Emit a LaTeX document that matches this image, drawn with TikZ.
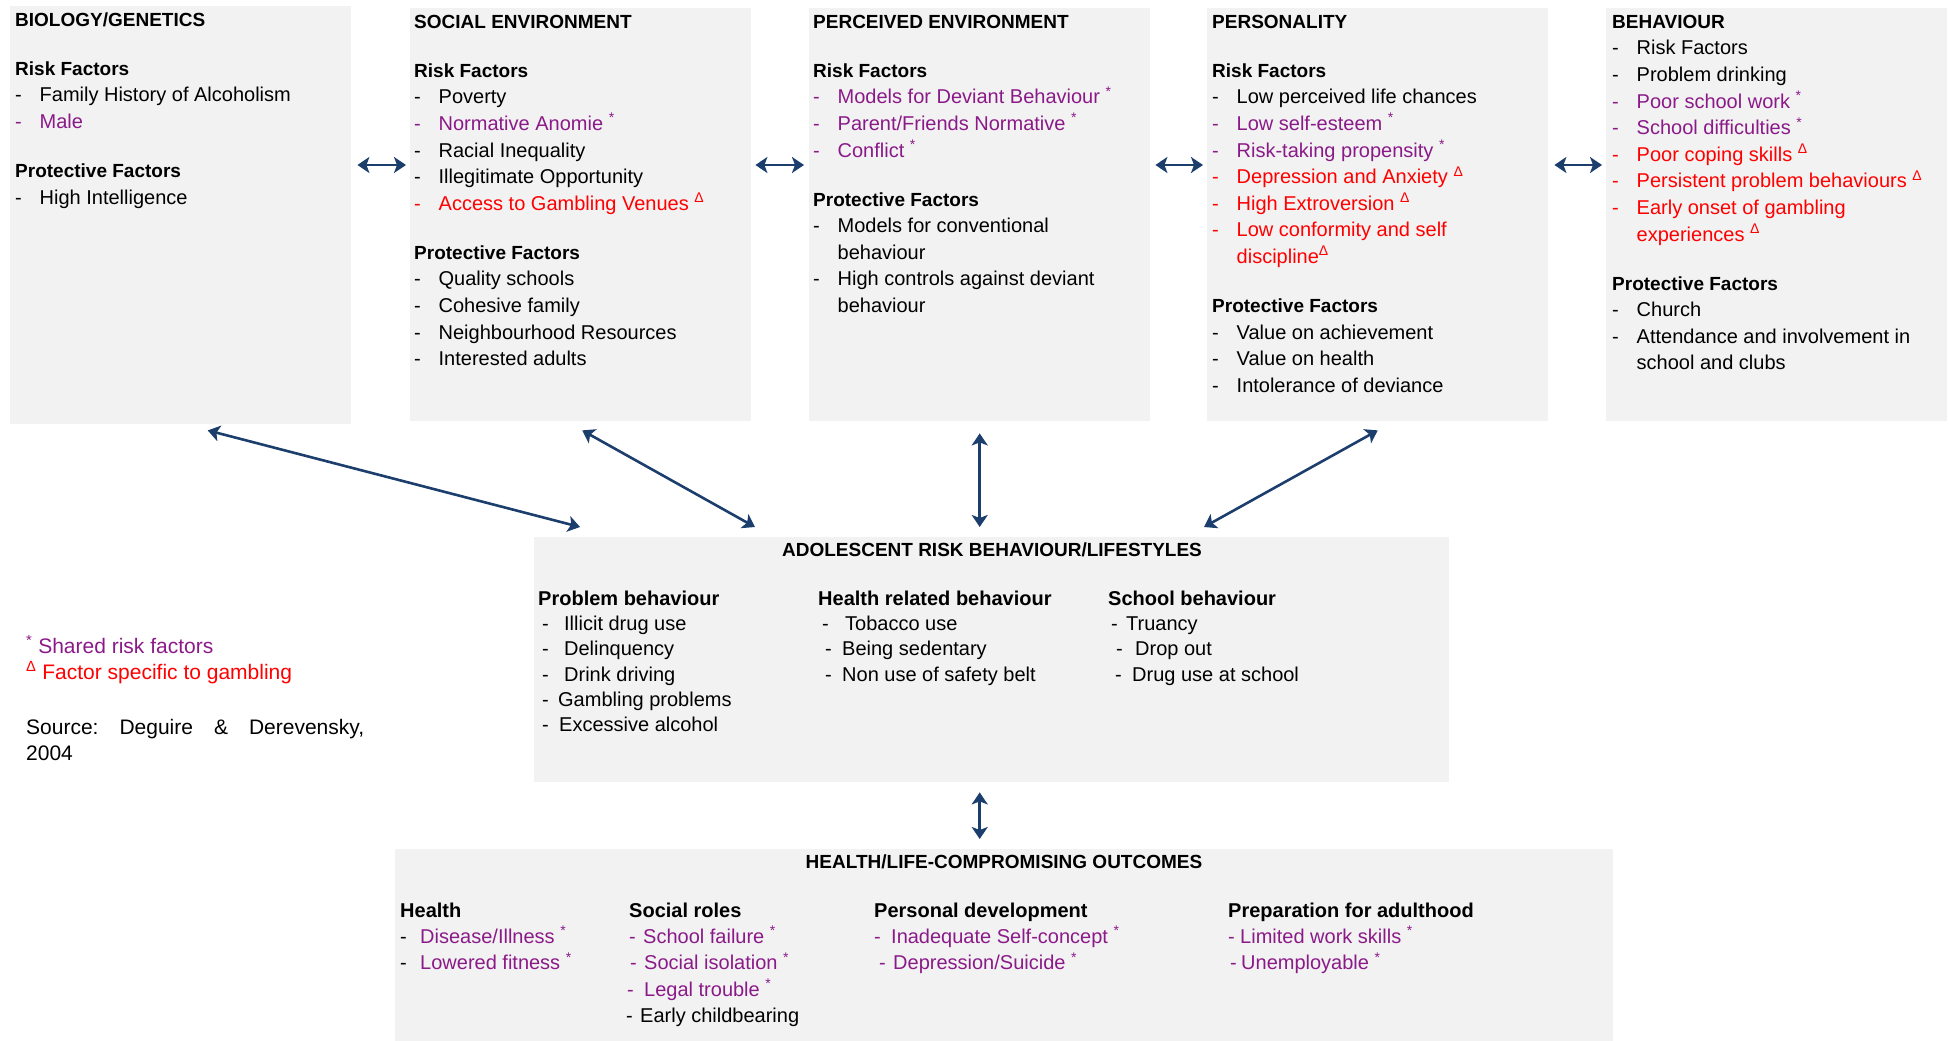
\documentclass[tikz,border=0pt]{standalone}
\usepackage{fontspec}
\setmainfont{Liberation Sans}
\usetikzlibrary{arrows.meta}
\usetikzlibrary{positioning}

\definecolor{panelgray}{HTML}{F2F2F2}
\definecolor{linkblue}{HTML}{1B3E6C}
\definecolor{sharedcol}{HTML}{8B1A89}
\definecolor{gamblecol}{HTML}{FF0000}

% list helpers
\newcommand{\itm}[1]{\makebox[24.5pt][l]{-}#1}
\newcommand{\cnt}[1]{\hspace*{24.5pt}#1}
\newcommand{\li}[3]{\hspace*{#1pt}\makebox[#2pt][l]{-}#3}
\newcommand{\hdr}[1]{{\fontsize{19}{26.6}\selectfont\bfseries #1}}
\newcommand{\shr}{\textsuperscript{*}}
\newcommand{\gam}{\textsuperscript{Δ}}
\newcommand{\shared}[1]{\textcolor{sharedcol}{#1}}
\newcommand{\gamble}[1]{\textcolor{gamblecol}{#1}}
\frenchspacing

\tikzset{
  panel/.style={fill=panelgray, draw=none, anchor=north west, inner sep=0pt},
  txt/.style={anchor=north west, inner sep=0pt, align=left,
    font=\fontsize{20}{26.6}\selectfont},
  coltxt/.style={anchor=north west, inner sep=0pt, align=left,
    font=\fontsize{20}{25.3}\selectfont},
  outtxt/.style={anchor=north west, inner sep=0pt, align=left,
    font=\fontsize{20}{26.3}\selectfont},
  headline/.style={anchor=base, inner sep=0pt, font=\fontsize{19}{24}\selectfont\bfseries},
  link/.style={draw=linkblue, line width=2.6pt,
    {Stealth[length=12pt,width=16pt,inset=3pt]}-{Stealth[length=12pt,width=16pt,inset=3pt]}}
}

\begin{document}
\begin{tikzpicture}[x=1pt, y=-1pt]
  \useasboundingbox (0,0) rectangle (1949,1041);

  % factor panels
  \node[panel, minimum width=341pt, minimum height=418pt] (bio) at (10,6) {};
  \node[panel, minimum width=341pt, minimum height=413pt] (social) at (410,8) {};
  \node[panel, minimum width=341pt, minimum height=413pt] (perceived) at (809,8) {};
  \node[panel, minimum width=341pt, minimum height=413pt] (person) at (1207,8) {};
  \node[panel, minimum width=341pt, minimum height=413pt] (behav) at (1606,8) {};
  \node[panel, minimum width=915pt, minimum height=245pt] (adol) at (534,537) {};
  \node[panel, minimum width=1218pt, minimum height=192pt] (outcome) at (395,849) {};

  \node[txt] (bioT) at (15,7.4) {\strut\hdr{BIOLOGY/GENETICS}\\[22.4pt]
    \hdr{Risk Factors}\\
    \itm{Family History of Alcoholism}\\
    \shared{\itm{Male}}\\[22.4pt]
    \hdr{Protective Factors}\\
    \itm{High Intelligence}};

  \node[txt] (socialT) at (414,9.4) {\strut\hdr{SOCIAL ENVIRONMENT}\\[22.4pt]
    \hdr{Risk Factors}\\
    \itm{Poverty}\\
    \shared{\itm{Normative Anomie \shr}}\\
    \itm{Racial Inequality}\\
    \itm{Illegitimate Opportunity}\\
    \gamble{\itm{Access to Gambling Venues \gam}}\\[22.4pt]
    \hdr{Protective Factors}\\
    \itm{Quality schools}\\
    \itm{Cohesive family}\\
    \itm{Neighbourhood Resources}\\
    \itm{Interested adults}};

  \node[txt] (perceivedT) at (813,9.4) {\strut\hdr{PERCEIVED ENVIRONMENT}\\[22.4pt]
    \hdr{Risk Factors}\\
    \shared{\itm{Models for Deviant Behaviour \shr}}\\
    \shared{\itm{Parent/Friends Normative \shr}}\\
    \shared{\itm{Conflict \shr}}\\[22.4pt]
    \hdr{Protective Factors}\\
    \itm{Models for conventional}\\
    \cnt{behaviour}\\
    \itm{High controls against deviant}\\
    \cnt{behaviour}};

  \node[txt] (personT) at (1212,9.4) {\strut\hdr{PERSONALITY}\\[22.4pt]
    \hdr{Risk Factors}\\
    \itm{Low perceived life chances}\\
    \shared{\itm{Low self-esteem \shr}}\\
    \shared{\itm{Risk-taking propensity \shr}}\\
    \gamble{\itm{Depression and Anxiety \gam}}\\
    \gamble{\itm{High Extroversion \gam}}\\
    \gamble{\itm{Low conformity and self}}\\
    \gamble{\cnt{discipline\gam}}\\[22.4pt]
    \hdr{Protective Factors}\\
    \itm{Value on achievement}\\
    \itm{Value on health}\\
    \itm{Intolerance of deviance}};

  \node[txt] (behavT) at (1612,9.4) {\strut\hdr{BEHAVIOUR}\\
    \itm{Risk Factors}\\
    \itm{Problem drinking}\\
    \shared{\itm{Poor school work \shr}}\\
    \shared{\itm{School difficulties \shr}}\\
    \gamble{\itm{Poor coping skills \gam}}\\
    \gamble{\itm{Persistent problem behaviours \gam}}\\
    \gamble{\itm{Early onset of gambling}}\\
    \gamble{\cnt{experiences \gam}}\\[22.4pt]
    \hdr{Protective Factors}\\
    \itm{Church}\\
    \itm{Attendance and involvement in}\\
    \cnt{school and clubs}};

  % adolescent risk behaviour
  \node[headline] (adolT) at (992,556) {ADOLESCENT RISK BEHAVIOUR/LIFESTYLES};
  \node[coltxt] (probC) at (538,587.3) {\strut\textbf{Problem behaviour}\\
    \li{4}{22}{Illicit drug use}\\
    \li{4}{22}{Delinquency}\\
    \li{4}{22}{Drink driving}\\
    \li{4}{16}{Gambling problems}\\
    \li{4}{17}{Excessive alcohol}};
  \node[coltxt] (healthC) at (818,587.3) {\strut\textbf{Health related behaviour}\\
    \li{4}{23}{Tobacco use}\\
    \li{7}{17}{Being sedentary}\\
    \li{7}{17}{Non use of safety belt}};
  \node[coltxt] (schoolC) at (1108,587.3) {\strut\textbf{School behaviour}\\
    \li{3}{15}{Truancy}\\
    \li{8}{19}{Drop out}\\
    \li{7}{17}{Drug use at school}};

  % outcomes
  \node[headline] (outcomeT) at (1004,868) {HEALTH/LIFE-COMPROMISING OUTCOMES};
  \node[outtxt] (healthO) at (400,898.6) {\strut\textbf{Health}\\
    \li{0}{20}{\shared{Disease/Illness \shr}}\\
    \li{0}{20}{\shared{Lowered fitness \shr}}};
  \node[outtxt] (rolesO) at (629,898.6) {\strut\textbf{Social roles}\\
    \shared{\li{0}{14}{School failure \shr}}\\
    \shared{\li{1}{14}{Social isolation \shr}}\\
    \shared{\li{-2}{17}{Legal trouble \shr}}\\
    \li{-3}{14}{Early childbearing}};
  \node[outtxt] (developO) at (874,898.6) {\strut\textbf{Personal development}\\
    \shared{\li{0}{17}{Inadequate Self-concept \shr}}\\
    \shared{\li{5}{14}{Depression/Suicide \shr}}};
  \node[outtxt] (adultO) at (1228,898.6) {\strut\textbf{Preparation for adulthood}\\
    \shared{\li{0}{12}{Limited work skills \shr}}\\
    \shared{\li{2}{11}{Unemployable \shr}}};

  % legend and source
  \node[anchor=north west, inner sep=0pt, align=left,
    font=\fontsize{21}{26}\selectfont] (legend) at (26,634.8) {\strut
    \shared{\shr\ Shared risk factors}\\
    \gamble{\gam\ Factor specific to gambling}\\[29pt]
    \makebox[338pt][s]{Source: Deguire \& Derevensky,}\\
    2004};

  % links between panels
  \draw[link] ([shift={(6,159)}]bio.north east) -- ([shift={(-4,157)}]social.north west);
  \draw[link] ([shift={(4,157)}]social.north east) -- ([shift={(-5,157)}]perceived.north west);
  \draw[link] ([shift={(5,157)}]perceived.north east) -- ([shift={(-4,157)}]person.north west);
  \draw[link] ([shift={(6,157)}]person.north east) -- ([shift={(-4,157)}]behav.north west);

  \coordinate (midtop) at (perceived.south |- adol.north);
  \coordinate (midlow) at (perceived.south |- adol.south);
  \coordinate (midout) at (perceived.south |- outcome.north);
  \draw[link] ([shift={(27,6)}]bio.south) -- ([shift={(46,-10)}]adol.north west);
  \draw[link] ([shift={(1.5,9)}]social.south) -- ([shift={(221,-10)}]adol.north west);
  \draw[link] ([yshift=-12pt]perceived.south) -- ([yshift=10pt]midtop);
  \draw[link] ([shift={(0,9)}]person.south) -- ([shift={(670,-10)}]adol.north west);
  \draw[link] ([yshift=-10pt]midlow) -- ([yshift=10pt]midout);
\end{tikzpicture}
\end{document}
